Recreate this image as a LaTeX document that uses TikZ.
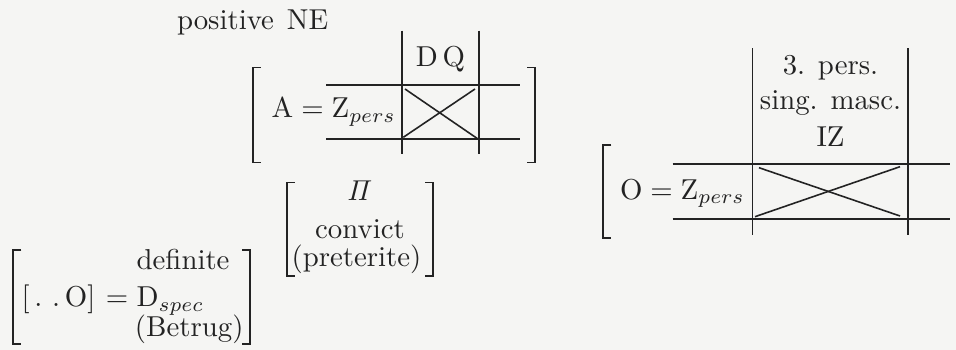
\documentclass[tikz,border=0pt]{standalone}
\definecolor{bg}{RGB}{245,245,243}
\definecolor{ink}{RGB}{35,35,35}
\tikzset{
  lbl/.style={inner sep=0pt, outer sep=0pt, text=ink},
  rule/.style={draw=ink, line width=0.65pt},
  thin/.style={draw=ink, line width=0.55pt},
}
\newcommand{\lbrk}[3]{\draw[rule] ({#1+8},#2) -- (#1,#2) -- (#1,#3) -- ({#1+8},#3);}
\newcommand{\rbrk}[3]{\draw[rule] ({#1-8},#2) -- (#1,#2) -- (#1,#3) -- ({#1-8},#3);}
\begin{document}
\begin{tikzpicture}[x=0.34722pt, y=-0.34722pt]
\fill[bg] (0,0) rectangle (956,350);
\useasboundingbox (0,0) rectangle (956,350);

% positive NE
\node[lbl, anchor=base west] (pne) at (177,29.5) {positive\hspace{4.5pt}NE};

% --- A matrix ---
\lbrk{252.7}{67.5}{162.5}
\rbrk{535}{67.5}{162.5}
\node[lbl, anchor=base west] (aeq) at (271.7,118) {$\mathrm{A} = \mathrm{Z}_{pers}$};
\node[lbl, anchor=base] (dq) at (440.5,66.7) {D\,Q};
\draw[rule] (326,85) -- (520,85);
\draw[rule] (326,139.3) -- (520,139.3);
\draw[rule] (402.3,30.7) -- (402.3,154);
\draw[rule] (479.3,30.7) -- (479.3,154);
\draw[thin] (405,89) -- (478,139);
\draw[thin] (475,89) -- (403.3,137.3);

% --- O matrix ---
\lbrk{603.3}{145}{238.3}
\node[lbl, anchor=base west] (oeq) at (620,199.3) {$\mathrm{O} = \mathrm{Z}_{pers}$};
\node[lbl, anchor=base] (t1) at (830.5,75) {3. pers.};
\node[lbl, anchor=base] (t2) at (830.5,110) {sing. masc.};
\node[lbl, anchor=base] (t3) at (830.5,146.7) {IZ};
\draw[rule] (672.7,164) -- (950,164);
\draw[rule] (672.7,219) -- (950,219);
\draw[rule] (752.5,48.3) -- (752.5,235);
\draw[rule] (908.3,48.3) -- (908.3,235);
\draw[thin] (759,167.7) -- (900,216);
\draw[thin] (900,166.7) -- (755,216.7);

% --- middle matrix ---
\lbrk{286.7}{182.5}{276}
\rbrk{433.3}{182.5}{276}
\node[lbl, anchor=base] (pi) at (360,201) {$\mathit{\Pi}$};
\node[lbl, anchor=base] (conv) at (360,238.3) {convict};
\node[lbl, anchor=base] (pret) at (356.5,266.7) {(preterite)};

% --- bottom-left matrix ---
\lbrk{13.3}{250}{344}
\rbrk{250}{250}{344}
\node[lbl, anchor=base west] (dots) at (21.7,306.7) {$[\,.\,\,.\,\mathrm{O}]$};
\node[lbl, anchor=base] (eq) at (117,306.7) {$=$};
\node[lbl, anchor=base west] (def) at (136.7,270) {definite};
\node[lbl, anchor=base west] (dsp) at (136.7,306.7) {$\mathrm{D}_{spec}$};
\node[lbl, anchor=base west] (bet) at (135,337) {(Betrug)};
\end{tikzpicture}
\end{document}
